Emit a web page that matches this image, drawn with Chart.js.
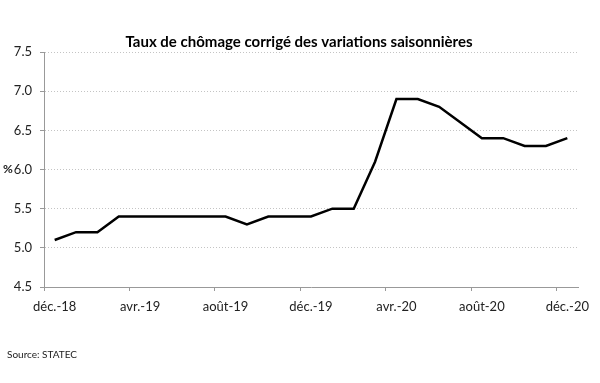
<!DOCTYPE html>
<html>
<head>
<meta charset="utf-8">
<script src="https://cdn.jsdelivr.net/npm/chart.js@4/dist/chart.umd.min.js"></script>
<style>
  html, body { margin: 0; padding: 0; background: #fff; }
  #wrap { width: 600px; height: 383px; position: relative; }
</style>
</head>
<body>
<div id="wrap"><canvas id="c" width="600" height="383"></canvas></div>
<script>
const titleText = "Taux de chômage corrigé des variations saisonnières";
const sourceText = "Source: STATEC";
const unitText = "%";

const months = [
  "déc.-18", "janv.-19", "févr.-19", "mars-19", "avr.-19", "mai-19", "juin-19",
  "juil.-19", "août-19", "sept.-19", "oct.-19", "nov.-19", "déc.-19",
  "janv.-20", "févr.-20", "mars-20", "avr.-20", "mai-20", "juin-20",
  "juil.-20", "août-20", "sept.-20", "oct.-20", "nov.-20", "déc.-20"
];
const rates = [
  5.1, 5.2, 5.2, 5.4, 5.4, 5.4, 5.4,
  5.4, 5.4, 5.3, 5.4, 5.4, 5.4,
  5.5, 5.5, 6.1, 6.9, 6.9, 6.8,
  6.6, 6.4, 6.4, 6.3, 6.3, 6.4
];
const labelEvery = 4;
const yMin = 4.5, yMax = 7.5, yStep = 0.5;

const textFont = "Lato, 'Open Sans', sans-serif";

const extraText = {
  id: 'extraText',
  afterDraw(chart) {
    const ctx = chart.ctx;
    ctx.save();
    ctx.fillStyle = '#000';
    ctx.textBaseline = 'middle';
    ctx.textAlign = 'center';
    ctx.font = "bold 15px " + textFont;
    ctx.fillText(titleText, 299, 42);
    ctx.textAlign = 'left';
    ctx.font = "10px " + textFont;
    ctx.fillStyle = '#222';
    ctx.fillText(sourceText, 7, 355);
    ctx.font = "bold 12px " + textFont;
    ctx.fillStyle = '#222';
    const y6 = chart.scales.y.getPixelForValue(6.0);
    ctx.fillText(unitText, 3, y6);
    ctx.restore();
  }
};

new Chart(document.getElementById('c'), {
  type: 'line',
  data: {
    labels: months,
    datasets: [{
      data: rates,
      borderColor: '#000',
      borderWidth: 2.5,
      pointRadius: 0,
      tension: 0,
      fill: false
    }]
  },
  options: {
    responsive: false,
    animation: false,
    layout: { padding: { top: 52, left: 0, right: 22, bottom: 0 } },
    plugins: {
      legend: { display: false },
      title: { display: false },
      tooltip: { enabled: false }
    },
    scales: {
      x: {
        type: 'category',
        offset: true,
        afterFit(scale) { scale.height = 96; },
        grid: {
          offset: true,
          drawOnChartArea: false,
          drawTicks: true,
          tickLength: 4,
          tickColor: (c) => (c.index % labelEvery === 0 && c.index < months.length) ? '#999' : 'rgba(0,0,0,0)',
          color: (c) => (c.index % labelEvery === 0 && c.index < months.length) ? '#999' : 'rgba(0,0,0,0)'
        },
        border: { display: true, color: '#999', width: 1 },
        ticks: {
          autoSkip: false,
          maxRotation: 0,
          minRotation: 0,
          padding: 8,
          color: '#222',
          font: { family: textFont, size: 13 },
          callback(value, index) { return index % labelEvery === 0 ? months[index] : ''; }
        }
      },
      y: {
        min: yMin,
        max: yMax,
        afterFit(scale) { scale.width = 44; },
        grid: {
          color: (c) => (c.tick && c.tick.value === yMin) ? 'rgba(0,0,0,0)' : '#c4c4c4',
          lineWidth: 1,
          tickLength: 4,
          tickColor: '#999'
        },
        border: { display: true, color: '#999', width: 1, dash: [1, 2] },
        ticks: {
          stepSize: yStep,
          padding: 8,
          color: '#222',
          font: { family: textFont, size: 13 },
          callback(v) { return Number(v).toFixed(1); }
        }
      }
    }
  },
  plugins: [extraText]
});
</script>
</body>
</html>
